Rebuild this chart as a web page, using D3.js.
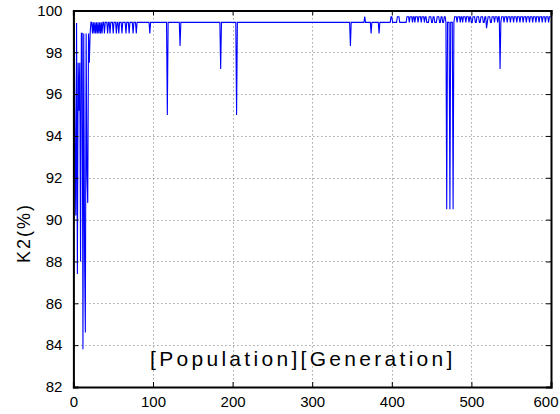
<!DOCTYPE html>
<html>
<head>
<meta charset="utf-8">
<script src="https://cdn.jsdelivr.net/npm/d3@7"></script>
<style>
  html, body { margin: 0; padding: 0; background: #fff; }
  svg { display: block; }
  text { font-family: "Liberation Sans", Arial, Helvetica, sans-serif; fill: #000; }
</style>
</head>
<body>
<svg id="chart" width="560" height="414"></svg>
<script>
// Axis ticks
const xTicks = [0, 100, 200, 300, 400, 500, 600];
const yTicks = [82, 84, 86, 88, 90, 92, 94, 96, 98, 100];

// K2 (%) for the first generations, where the search is still unstable
const earlyK2 = [88.8, 99.4, 93.5, 90.2, 99.4, 87.4, 97.5, 95.2, 97.5, 88.0,
                 98.9, 98.9, 83.8, 98.9, 88.5, 84.6, 98.9, 92.2, 90.8, 98.9,
                 97.5, 98.9, 99.43];

// Levels the run settles on
const plateauLevel = 99.43;
const highLevel = 99.70;
const shallowLevel = 98.9;

// Generations that briefly fall to the shallow level
const shallowGens = [24, 26, 28, 30, 32, 34, 36, 39, 43, 46, 50, 54, 57, 61, 66, 70, 75, 79];

// Generations (inclusive ranges) that sit on the high level
const highRanges = [
  [366, 366], [399, 400], [407, 409],
  [419, 421], [423, 425], [427, 428], [430, 432], [434, 436], [438, 440], [442, 443],
  [447, 449], [452, 453], [457, 459], [462, 463], [466, 467],
  [479, 481], [483, 485], [487, 488], [490, 492], [494, 496], [498, 499],
  [502, 504], [507, 509], [512, 514], [517, 518], [521, 523],
  [526, 528], [530, 532], [534, 535], [538, 540], [542, 544], [546, 548],
  [550, 552], [554, 556], [558, 560], [562, 564], [566, 568], [570, 572],
  [574, 576], [578, 580], [582, 584], [586, 588], [590, 592], [594, 596], [598, 600]
];

// Isolated drops: [generation, K2 %]
const dips = [
  [96, 98.9], [118, 95.0], [134, 98.3], [185, 97.2], [205, 95.0],
  [348, 98.3], [374, 98.9], [384, 98.9],
  [469, 90.5], [473, 90.5], [477, 90.5],
  [519, 99.15], [536, 97.2]
];

const lastGen = 600;

// Assemble the per-generation series
const series = [];
for (let g = 0; g <= lastGen; g++) {
  series.push({ gen: g, k2: g < earlyK2.length ? earlyK2[g] : plateauLevel });
}
shallowGens.forEach(g => { series[g].k2 = shallowLevel; });
highRanges.forEach(([a, b]) => { for (let g = a; g <= b; g++) series[g].k2 = highLevel; });
dips.forEach(([g, v]) => { series[g].k2 = v; });

const svg = d3.select("#chart");
const plotLeft = 73.4, plotRight = 551, plotTop = 10.4, plotBottom = 387;

const x = d3.scaleLinear().domain([0, 600]).range([plotLeft, plotRight]);
const y = d3.scaleLinear().domain([82, 100]).range([plotBottom, plotTop]);

// Dotted grid
const grid = svg.append("g").attr("stroke", "#7a7a7a").attr("stroke-width", 1)
  .attr("stroke-dasharray", "1,3");
grid.selectAll("line.v").data(xTicks.slice(1, -1)).join("line").attr("class", "v")
  .attr("x1", d => Math.round(x(d)) + 0.5).attr("x2", d => Math.round(x(d)) + 0.5)
  .attr("y1", plotTop).attr("y2", plotBottom);
grid.selectAll("line.h").data(yTicks.slice(1, -1)).join("line").attr("class", "h")
  .attr("x1", plotLeft).attr("x2", plotRight)
  .attr("y1", d => Math.round(y(d)) + 0.5).attr("y2", d => Math.round(y(d)) + 0.5);

// Clip for the data line
svg.append("clipPath").attr("id", "plotClip").append("rect")
  .attr("x", plotLeft).attr("y", plotTop)
  .attr("width", plotRight - plotLeft).attr("height", plotBottom - plotTop);

const line = d3.line().x(d => x(d.gen)).y(d => y(d.k2));
svg.append("path").datum(series)
  .attr("clip-path", "url(#plotClip)")
  .attr("fill", "none").attr("stroke", "#0000ff").attr("stroke-width", 1.1)
  .attr("d", line);

// Axes with inward ticks on all four sides
const gx = svg.append("g").attr("transform", `translate(0,${plotBottom})`)
  .call(d3.axisBottom(x).tickValues(xTicks).tickSize(-5).tickPadding(9).tickFormat(d3.format("d")));
const gy = svg.append("g").attr("transform", `translate(${plotLeft},0)`)
  .call(d3.axisLeft(y).tickValues(yTicks).tickSize(-5).tickPadding(11).tickFormat(d3.format("d")));
const gt = svg.append("g").attr("transform", `translate(0,${plotTop})`)
  .call(d3.axisTop(x).tickValues(xTicks).tickSize(-5).tickFormat(""));
const gr = svg.append("g").attr("transform", `translate(${plotRight},0)`)
  .call(d3.axisRight(y).tickValues(yTicks).tickSize(-5).tickFormat(""));

[gx, gy, gt, gr].forEach(g => {
  g.select(".domain").attr("stroke", "#000").attr("stroke-width", 2);
  g.selectAll(".tick line").attr("stroke", "#000").attr("stroke-width", 1);
  g.selectAll(".tick text").attr("font-size", "15px")
    .attr("font-family", "'Liberation Sans', Arial, sans-serif").attr("fill", "#000");
});

// Keep the last x label inside the figure
gx.selectAll(".tick").filter(d => d === xTicks[xTicks.length - 1]).select("text")
  .attr("text-anchor", "end").attr("x", 7);

// Y axis title
svg.append("text")
  .attr("transform", "translate(30,263) rotate(-90)")
  .attr("font-size", "18px").attr("letter-spacing", "2px")
  .text("K2(%)");

// In-plot annotation
svg.append("text")
  .attr("x", 150).attr("y", 366)
  .attr("font-size", "21px").attr("letter-spacing", "3.3px")
  .text("[Population][Generation]");
</script>
</body>
</html>
